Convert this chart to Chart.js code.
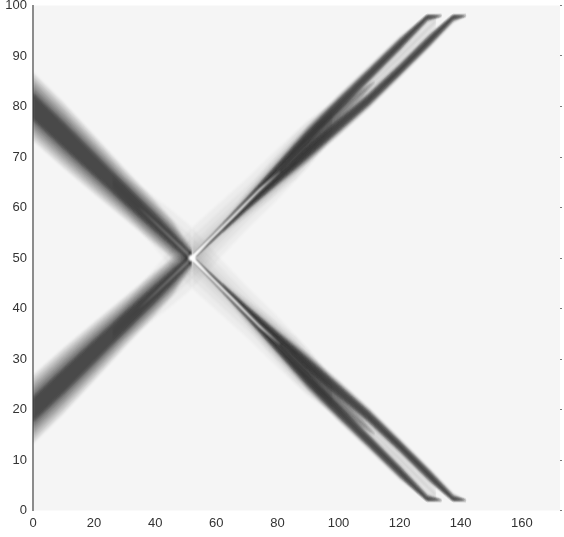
<!DOCTYPE html>
<html>
<head>
<meta charset="utf-8">
<title>Crossing bands</title>
<script src="https://cdn.jsdelivr.net/npm/chart.js@4"></script>
<style>
html, body { margin: 0; padding: 0; background: #fff; }
canvas { display: block; filter: blur(0.4px); }
</style>
</head>
<body>
<canvas id="chart" width="564" height="537"></canvas>
<script>
// tick labels
var xTicks = [0, 20, 40, 60, 80, 100, 120, 140, 160];
var yTicks = [0, 10, 20, 30, 40, 50, 60, 70, 80, 90, 100];

// left arms
var leftX = [0, 10, 20, 30, 40, 46, 52];
var upperLeftY = [80, 74.3, 68.5, 62.7, 57, 53.5, 50];
var lowerLeftY = [20, 25.7, 31.5, 37.3, 43, 46.5, 50];
var upperLeftCore = [2.3, 2.2, 1.9, 1.6, 1.3, 1.0, 0.4];
var lowerLeftCore = [2.1, 2.1, 1.9, 1.6, 1.3, 1.0, 0.4];
var leftHalo = [6.8, 6.5, 5.8, 5.0, 4.4, 3.8, 1.8];

// right arms, two lines on each side
var nearX = [52, 60, 70, 80, 90, 100, 110, 120, 129, 134];
var farX = [52, 60, 70, 80, 90, 100, 110, 120, 130, 137.5, 142];
var upperNearY = [50, 55, 61.3, 67.7, 74.1, 80.3, 86.3, 92.3, 98, 101];
var upperFarY = [50, 54.5, 60.1, 65.6, 71, 76.2, 81.4, 87.2, 93.2, 98, 101];
var lowerNearY = [50, 45, 38.7, 32.3, 25.9, 19.7, 13.7, 7.7, 2, -1];
var lowerFarY = [50, 45.5, 39.9, 34.4, 29, 23.8, 18.6, 12.8, 6.8, 2, -1];
var nearCore = [0.1, 0.12, 0.2, 0.4, 0.7, 0.75, 0.65, 0.55, 0.55, 0.55];
var nearHalo = [0.5, 0.6, 0.8, 1.4, 2.1, 2.0, 1.7, 1.5, 1.4, 1.4];
var farCore = [0.1, 0.12, 0.2, 0.4, 0.7, 0.75, 0.65, 0.55, 0.55, 0.55, 0.55];
var farHalo = [0.5, 0.6, 0.8, 1.4, 2.1, 2.0, 1.7, 1.5, 1.4, 1.4, 1.4];

// soft grey around the crossing
var glowX = [52, 60, 70, 80, 90, 98];
var upperGlowY = [50, 54.8, 60.7, 66.6, 72.6, 77.2];
var lowerGlowY = [50, 45.2, 39.3, 33.4, 27.4, 22.8];
var glowSpread = [6, 5.5, 5, 5, 4.6, 3];
var leftGlowX = [26, 36, 44, 52.15];
var upperLeftGlowY = [65, 59.3, 54.6, 50];
var lowerLeftGlowY = [35, 40.7, 45.4, 50];
var leftGlowSpread = [2, 4.5, 5.5, 6];

// darker shoulder where the two lines merge
var shoulderX = [62, 70, 78, 86, 94, 102, 112];
var upperShoulderY = [55.8, 60.7, 65.5, 70.2, 75, 79.7, 85];
var lowerShoulderY = [44.2, 39.3, 34.5, 29.8, 25, 20.3, 15];
var shoulderCore = [0, 0.4, 0.9, 1.5, 1.6, 0.6, 0];
var shoulderHalo = [1.0, 2.6, 3.8, 4.6, 4.2, 2.6, 0.1];

// grey between the two lines
var gapX = [70, 80, 90, 100, 110, 120, 132];
var upperGapY = [60.7, 66.6, 72.6, 78.2, 83.9, 89.8, 97];
var lowerGapY = [39.3, 33.4, 27.4, 21.8, 16.1, 10.2, 3];
var gapSpread = [0, 1.0, 1.5, 2, 2.4, 2.5, 1.5];

// white thread along the right arms
var threadX = [52, 58, 66, 74, 81];
var upperThreadY = [50, 53.7, 58.5, 63.4, 67.2];
var lowerThreadY = [50, 46.3, 41.5, 36.6, 32.8];
var threadSpread = [0.7, 0.4, 0.35, 0.25, 0.03];

// pale thread along the left arms near the crossing
var paleX = [34, 40, 46, 51];
var upperPaleY = [60.4, 57, 53.5, 50.6];
var lowerPaleY = [39.6, 43, 46.5, 49.4];
var paleSpread = [0, 0.15, 0.25, 0.4];

var centreX = [52];
var centreY = [50];

var armTop = 98;
var armBottom = 2;
var chartDatasets = [];

function addBand(xs, ys, core, halo, shade, layers, drawOrder) {
    for (var k = 0; k < layers; k++) {
        var f = layers > 1 ? Math.pow(k / (layers - 1), 2.4) : 1;
        var upper = [];
        var lower = [];
        for (var i = 0; i < xs.length; i++) {
            var spread = core[i] + (halo[i] - core[i]) * f;
            upper.push({ x: xs[i], y: Math.max(armBottom, Math.min(armTop, ys[i] + spread)) });
            lower.push({ x: xs[i], y: Math.max(armBottom, Math.min(armTop, ys[i] - spread)) });
        }
        chartDatasets.push({ data: upper, fill: "+1", backgroundColor: shade, borderWidth: 0, pointRadius: 0, order: drawOrder });
        chartDatasets.push({ data: lower, fill: false, borderWidth: 0, pointRadius: 0, order: drawOrder });
    }
}

var glowZeros = [0, 0, 0, 0, 0, 0];
var leftGlowZeros = [0, 0, 0, 0];
var gapZeros = [0, 0, 0, 0, 0, 0, 0];
var dark = "rgba(45,45,45,0.11)";
var soft = "rgba(70,70,70,0.05)";
var shoulderShade = "rgba(60,60,60,0.05)";
var gapShade = "rgba(70,70,70,0.07)";

addBand(glowX, upperGlowY, glowZeros, glowSpread, soft, 8, 9);
addBand(glowX, lowerGlowY, glowZeros, glowSpread, soft, 8, 9);
addBand(leftGlowX, upperLeftGlowY, leftGlowZeros, leftGlowSpread, soft, 8, 9);
addBand(leftGlowX, lowerLeftGlowY, leftGlowZeros, leftGlowSpread, soft, 8, 9);
addBand(shoulderX, upperShoulderY, shoulderCore, shoulderHalo, shoulderShade, 12, 9);
addBand(shoulderX, lowerShoulderY, shoulderCore, shoulderHalo, shoulderShade, 12, 9);
addBand(leftX, upperLeftY, upperLeftCore, leftHalo, dark, 16, 8);
addBand(leftX, lowerLeftY, lowerLeftCore, leftHalo, dark, 16, 8);
addBand(gapX, upperGapY, gapZeros, gapSpread, gapShade, 4, 7);
addBand(gapX, lowerGapY, gapZeros, gapSpread, gapShade, 4, 7);
addBand(nearX, upperNearY, nearCore, nearHalo, dark, 16, 6);
addBand(farX, upperFarY, farCore, farHalo, dark, 16, 6);
addBand(nearX, lowerNearY, nearCore, nearHalo, dark, 16, 6);
addBand(farX, lowerFarY, farCore, farHalo, dark, 16, 6);
addBand(paleX, upperPaleY, paleSpread, paleSpread, "rgba(170,170,170,0.6)", 1, 3);
addBand(paleX, lowerPaleY, paleSpread, paleSpread, "rgba(170,170,170,0.6)", 1, 3);
addBand(threadX, upperThreadY, threadSpread, threadSpread, "rgba(255,255,255,1)", 1, 2);
addBand(threadX, lowerThreadY, threadSpread, threadSpread, "rgba(255,255,255,1)", 1, 2);

chartDatasets.push({
    data: [{ x: centreX[0], y: centreY[0] }],
    showLine: false,
    pointRadius: 3.5,
    pointBackgroundColor: "#ffffff",
    pointBorderWidth: 0,
    order: 0
});

var plotBackground = {
    id: "plotBackground",
    beforeDraw: function (chart) {
        var a = chart.chartArea;
        chart.ctx.save();
        chart.ctx.fillStyle = "#f5f5f5";
        chart.ctx.fillRect(a.left, a.top, a.right - a.left, a.bottom - a.top);
        chart.ctx.restore();
    }
};

// softens the bands the way the reference is smeared
var softenBands = {
    id: "softenBands",
    beforeDatasetsDraw: function (chart) {
        chart.ctx.filter = "blur(1.3px)";
    },
    afterDatasetsDraw: function (chart) {
        chart.ctx.filter = "none";
    }
};

var tickFont = { family: "Liberation Sans", size: 13 };

function noScalePadding(scale) {
    scale.paddingTop = 0;
    scale.paddingBottom = 0;
    scale.paddingLeft = 0;
    scale.paddingRight = 0;
}

new Chart(document.getElementById("chart").getContext("2d"), {
    type: "line",
    data: { datasets: chartDatasets },
    options: {
        responsive: false,
        animation: false,
        layout: { padding: { top: 5.5, right: 0, bottom: 0, left: 0 } },
        plugins: { legend: { display: false }, tooltip: { enabled: false } },
        scales: {
            x: {
                type: "linear",
                min: 0,
                max: 172.5,
                grid: { display: false, drawTicks: false },
                border: { display: false },
                afterBuildTicks: function (scale) {
                    scale.ticks = xTicks.map(function (v) { return { value: v }; });
                },
                ticks: { font: tickFont, color: "#333", padding: 5, maxRotation: 0, autoSkip: false },
                afterFit: function (scale) { scale.height = 26.5; noScalePadding(scale); }
            },
            y: {
                min: 0,
                max: 100,
                grid: { display: false, drawTicks: false },
                border: { color: "#8c8c8c", width: 2 },
                afterBuildTicks: function (scale) {
                    scale.ticks = yTicks.map(function (v) { return { value: v }; });
                },
                ticks: { font: tickFont, color: "#333", padding: 6, autoSkip: false },
                afterFit: function (scale) { scale.width = 33; noScalePadding(scale); }
            },
            yRight: {
                position: "right",
                min: 0,
                max: 100,
                border: { display: false },
                grid: { drawOnChartArea: false, tickLength: 2, color: "#777" },
                afterBuildTicks: function (scale) {
                    scale.ticks = yTicks.map(function (v) { return { value: v }; });
                },
                ticks: { display: false },
                afterFit: function (scale) { scale.width = 4; noScalePadding(scale); }
            }
        }
    },
    plugins: [plotBackground, softenBands]
});
</script>
</body>
</html>
